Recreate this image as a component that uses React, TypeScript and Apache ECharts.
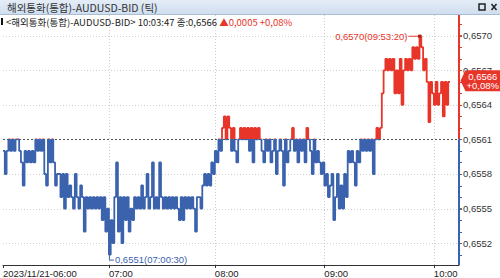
import React, { useEffect, useRef } from "react";
import * as echarts from "echarts";

const TITLE = "해외통화(통합)-AUDUSD-BID (틱)";
const INFO_MAIN = "<해외통화(통합)-AUDUSD-BID> 10:03:47 종:0,6566 ";
const INFO_CHANGE = "▲0,0005 +0,08%";
const PREV_CLOSE = 0.6561;
const LAST_LABEL = "0,6566\n+0,08%";
const HIGH_LABEL = "0,6570(09:53:20)";
const LOW_LABEL = "0,6551(07:00:30)";
const Y_MIN = 0.65501;
const Y_MAX = 0.65718;
const Y_LABELS = [0.6552, 0.6555, 0.6558, 0.6561, 0.6564, 0.6567, 0.657];
const Y_MINOR = [
  0.6551, 0.6552, 0.6553, 0.6554, 0.6555, 0.6556, 0.6557, 0.6558, 0.6559, 0.656,
  0.6561, 0.6562, 0.6563, 0.6564, 0.6565, 0.6566, 0.6567, 0.6568, 0.6569, 0.657, 0.6571,
];
const DATE_PREFIX = "2023/11/21-";
const HOURS = ["06", "07", "08", "09", "10"];
const TICKS_PER_HOUR = [59, 59, 61, 61, 10];
const SPAN_SECONDS = [3600, 3600, 3600, 3600, 227];
const PAD_CATEGORIES = 5;

// prices in units of 0.00001
const PRICES = [
  65600, 65580, 65600, 65610, 65600, 65610, 65600, 65610, 65610, 65600,
  65590, 65570, 65600, 65590, 65600, 65590, 65600, 65590, 65610, 65600,
  65610, 65600, 65610, 65580, 65570, 65610, 65590, 65610, 65590, 65570,
  65580, 65580, 65560, 65580, 65550, 65580, 65560, 65570, 65560, 65550,
  65580, 65560, 65550, 65570, 65560, 65530, 65560, 65550, 65560, 65550,
  65560, 65550, 65560, 65550, 65560, 65540, 65560, 65530, 65550, 65510,
  65540, 65520, 65560, 65590, 65530, 65560, 65520, 65560, 65540, 65560,
  65530, 65550, 65540, 65560, 65550, 65560, 65550, 65570, 65550, 65560,
  65580, 65550, 65560, 65590, 65550, 65560, 65550, 65590, 65560, 65550,
  65560, 65550, 65560, 65550, 65560, 65550, 65560, 65550, 65540, 65560,
  65540, 65560, 65550, 65560, 65550, 65560, 65550, 65530, 65560, 65560,
  65550, 65570, 65580, 65570, 65580, 65570, 65590, 65580, 65600, 65590,
  65610, 65600, 65620, 65630, 65610, 65630, 65620, 65600, 65620, 65600,
  65590, 65610, 65620, 65610, 65620, 65610, 65620, 65600, 65620, 65590,
  65620, 65610, 65620, 65610, 65600, 65590, 65610, 65600, 65610, 65590,
  65600, 65610, 65580, 65600, 65610, 65600, 65570, 65610, 65590, 65600,
  65610, 65620, 65600, 65610, 65590, 65610, 65600, 65610, 65590, 65620,
  65610, 65600, 65580, 65610, 65590, 65600, 65590, 65580, 65590, 65570,
  65580, 65560, 65570, 65580, 65540, 65560, 65580, 65550, 65570, 65550,
  65580, 65560, 65600, 65590, 65600, 65590, 65570, 65600, 65590, 65610,
  65600, 65610, 65600, 65610, 65600, 65610, 65580, 65610, 65620, 65610,
  65620, 65650, 65670, 65680, 65670, 65680, 65670, 65680, 65650, 65670,
  65650, 65680, 65640, 65670, 65680, 65670, 65680, 65670, 65690, 65680,
  65690, 65680, 65700, 65690, 65670, 65680, 65660, 65625, 65660, 65650,
  65640, 65660, 65640, 65650, 65660, 65630, 65660, 65640, 65660, 65660,
];

const BLUE = "#3a62ad";
const RED = "#e8352a";
const GRID_COLOR = "#cfcfcf";
const LATIN = "'Liberation Sans', Arial, sans-serif";
const KOREAN = "'Noto Sans CJK KR', 'Liberation Sans', sans-serif";

const pad2 = (n: number) => (n < 10 ? "0" + n : "" + n);
const fmt = (v: number) => v.toFixed(4).replace(".", ",");

export default function App() {
  const ref = useRef<HTMLDivElement>(null);
  useEffect(() => {
    if (!ref.current) return;
    const el = ref.current;

    const categories: string[] = [];
    HOURS.forEach((h, hi) => {
      const n = TICKS_PER_HOUR[hi];
      for (let k = 0; k < n; k++) {
        const sec =
          hi === HOURS.length - 1
            ? Math.round((k * SPAN_SECONDS[hi]) / (n - 1))
            : Math.floor((k * SPAN_SECONDS[hi]) / n);
        categories.push(h + ":" + pad2(Math.floor(sec / 60)) + ":" + pad2(sec % 60));
      }
    });
    for (let i = 0; i < PAD_CATEGORIES; i++) categories.push(" ".repeat(i + 1));
    const lastCat = categories.length - 1;

    const values = PRICES.map((p) => p / 100000);
    const data = values.map((v, i) => [i, v]);
    let iMax = 0;
    let iMin = 0;
    values.forEach((v, i) => {
      if (v > values[iMax]) iMax = i;
      if (v < values[iMin]) iMin = i;
    });
    const last = values.length - 1;
    const isHour = (i: number) => /:00:00$/.test(categories[i]);
    const hourIdx = categories.map((_, i) => i).filter((i) => isHour(i));

    const baseOption = (useCustom: boolean) => ({
      animation: false,
      textStyle: { fontFamily: LATIN },
      grid: { left: 0, right: 41, top: 15, bottom: 13 },
      xAxis: {
        type: "category",
        data: categories,
        boundaryGap: false,
        axisLine: { lineStyle: { color: "#333", width: 1 } },
        axisTick: { interval: (i: number) => isHour(i), length: 3, lineStyle: { color: "#333" } },
        axisLabel: {
          interval: (i: number) => isHour(i),
          align: "left",
          fontSize: 9.5,
          color: "#222",
          margin: 3,
          fontFamily: LATIN,
          formatter: (v: string, i: number) => (i === 0 ? DATE_PREFIX : "") + v.slice(0, 5),
        },
        splitLine: { show: false },
      },
      yAxis: {
        type: "value",
        position: "right",
        min: Y_MIN,
        max: Y_MAX,
        axisLine: { show: false },
        axisTick: useCustom
          ? { show: true, customValues: Y_LABELS, length: 3, lineStyle: { color: "#777" } }
          : { show: false },
        axisLabel: useCustom
          ? {
              customValues: Y_LABELS,
              formatter: (v: number) => fmt(v),
              fontSize: 9.5,
              color: "#333",
              margin: 4,
              fontFamily: LATIN,
            }
          : { show: false },
        splitLine: { show: false },
      },
      visualMap: {
        type: "piecewise",
        show: false,
        dimension: 1,
        seriesIndex: 0,
        pieces: [
          { gte: 0, lte: PREV_CLOSE, color: BLUE },
          { gt: PREV_CLOSE, lte: 1, color: RED },
        ],
      },
      series: [
        {
          type: "line",
          data,
          step: "end",
          showSymbol: false,
          symbol: "none",
          lineStyle: { width: 1.8 },
          z: 3,
        },
      ],
    });

    let chart = echarts.init(el, undefined, { renderer: "svg" });
    let customOk = true;
    try {
      chart.setOption(baseOption(true));
    } catch (e) {
      customOk = false;
      chart.dispose();
      chart = echarts.init(el, undefined, { renderer: "svg" });
      chart.setOption(baseOption(false));
    }

    const toPx = (i: number, v: number) =>
      chart.convertToPixel({ gridIndex: 0 }, [i, v]) as number[];
    const yTop = toPx(0, Y_MAX)[1];
    const yBot = toPx(0, Y_MIN)[1];
    const xLeft = toPx(0, Y_MIN)[0];
    const xRight = toPx(lastCat, Y_MIN)[0];
    const yPrev = toPx(0, PREV_CLOSE)[1];
    const ln = (x1: number, y1: number, x2: number, y2: number, style: any, z = 1) => ({
      type: "line",
      shape: { x1, y1, x2, y2 },
      style,
      z,
      silent: true,
    });

    const els: any[] = [];
    Y_LABELS.filter((v) => v !== PREV_CLOSE).forEach((v) => {
      const y = Math.round(toPx(0, v)[1]) + 0.5;
      els.push(ln(xLeft, y, xRight, y, { stroke: GRID_COLOR, lineWidth: 1, lineDash: [1, 2] }));
    });
    hourIdx
      .filter((i) => i > 0)
      .forEach((i) => {
        const x = Math.round(toPx(i, Y_MIN)[0]) + 0.5;
        els.push(ln(x, yTop, x, yBot, { stroke: GRID_COLOR, lineWidth: 1, lineDash: [1, 2] }));
      });
    const yp = Math.round(yPrev) + 0.5;
    els.push(ln(xLeft, yp, xRight, yp, { stroke: "#555", lineWidth: 1, lineDash: [2, 2] }, 2));
    els.push(ln(xRight, yTop, xRight, yPrev, { stroke: RED, lineWidth: 2 }, 5));
    els.push(ln(xRight, yPrev, xRight, yBot, { stroke: BLUE, lineWidth: 2 }, 5));
    Y_MINOR.forEach((v) => {
      const y = Math.round(toPx(0, v)[1]) + 0.5;
      els.push(
        ln(xRight, y, xRight + 3, y, { stroke: v > PREV_CLOSE ? RED : BLUE, lineWidth: 1 }, 5)
      );
    });
    if (!customOk) {
      Y_LABELS.forEach((v) => {
        els.push({
          type: "text",
          x: xRight + 4,
          y: toPx(0, v)[1],
          style: {
            text: fmt(v),
            fill: "#333",
            font: "9.5px " + LATIN,
            verticalAlign: "middle",
          },
          z: 4,
          silent: true,
        });
      });
    }

    // annotations
    const pMax = toPx(iMax, values[iMax]);
    const pMin = toPx(iMin, values[iMin]);
    const pLast = toPx(lastCat, values[last]);
    els.push(ln(pMax[0] - 11, pMax[1] + 0.5, pMax[0], pMax[1] + 0.5, { stroke: RED, lineWidth: 1 }, 6));
    els.push({
      type: "rect",
      shape: { x: pMax[0] - 1.5, y: pMax[1] - 1, width: 3, height: 3 },
      style: { fill: "#a3261d" },
      z: 6,
      silent: true,
    });
    els.push({
      type: "text",
      x: pMax[0] - 12,
      y: pMax[1] + 0.5,
      style: {
        text: HIGH_LABEL,
        fill: RED,
        font: "9.5px " + LATIN,
        align: "right",
        verticalAlign: "middle",
      },
      z: 6,
      silent: true,
    });
    els.push({
      type: "polyline",
      shape: {
        points: [
          [pMin[0] + 0.5, pMin[1]],
          [pMin[0] + 0.5, pMin[1] + 5.5],
          [pMin[0] + 5, pMin[1] + 5.5],
        ],
      },
      style: { stroke: BLUE, lineWidth: 1, fill: "none" },
      z: 6,
      silent: true,
    });
    els.push({
      type: "text",
      x: pMin[0] + 6,
      y: pMin[1] + 4.5,
      style: {
        text: LOW_LABEL,
        fill: BLUE,
        font: "9.5px " + LATIN,
        verticalAlign: "middle",
      },
      z: 6,
      silent: true,
    });
    const tagL = pLast[0] + 1.5;
    const tagTop = pLast[1] - 11.5;
    const tagH = 21;
    els.push({
      type: "polygon",
      shape: {
        points: [
          [tagL, tagTop + tagH / 2],
          [tagL + 5, tagTop],
          [500, tagTop],
          [500, tagTop + tagH],
          [tagL + 5, tagTop + tagH],
        ],
      },
      style: { fill: RED },
      z: 7,
      silent: true,
    });
    els.push({
      type: "text",
      x: (tagL + 5 + 500) / 2,
      y: tagTop + tagH / 2,
      style: {
        text: LAST_LABEL,
        fill: "#fff",
        font: "9.5px " + LATIN,
        lineHeight: 9.5,
        align: "center",
        verticalAlign: "middle",
      },
      z: 8,
      silent: true,
    });

    // header
    els.push({
      type: "rect",
      shape: { x: 0, y: 0, width: 500, height: 14 },
      style: {
        fill: new echarts.graphic.LinearGradient(0, 0, 0, 1, [
          { offset: 0, color: "#e4edf7" },
          { offset: 1, color: "#cfdeee" },
        ]),
      },
      z: 10,
      silent: true,
    });
    els.push(ln(0, 14.5, 500, 14.5, { stroke: "#a9bdd4", lineWidth: 1 }, 10));
    els.push({
      type: "text",
      x: 7,
      y: 7,
      style: { text: TITLE, fill: "#333", font: "10.5px " + KOREAN, verticalAlign: "middle" },
      z: 11,
      silent: true,
    });
    els.push({
      type: "rect",
      shape: { x: 479, y: 4, width: 6, height: 6 },
      style: { fill: "none", stroke: "#222", lineWidth: 1.5 },
      z: 11,
      silent: true,
    });
    els.push(ln(491.5, 4, 496.5, 10, { stroke: "#222", lineWidth: 1.5 }, 11));
    els.push(ln(496.5, 4, 491.5, 10, { stroke: "#222", lineWidth: 1.5 }, 11));
    els.push({
      type: "rect",
      shape: { x: 1, y: 18, width: 2, height: 7 },
      style: { fill: "#111" },
      z: 11,
      silent: true,
    });
    els.push({
      type: "text",
      x: 6,
      y: 21.5,
      style: {
        text: "{a|" + INFO_MAIN + "}{b|" + INFO_CHANGE + "}",
        verticalAlign: "middle",
        rich: {
          a: { fill: "#222", font: "9.5px " + KOREAN },
          b: { fill: RED, font: "9.5px " + KOREAN },
        },
      },
      z: 11,
      silent: true,
    });

    chart.setOption({ graphic: els });
    return () => chart.dispose();
  }, []);
  return (
    <div
      ref={ref}
      style={{ position: "fixed", left: 0, top: 0, width: 500, height: 278, background: "#fff" }}
    />
  );
}
